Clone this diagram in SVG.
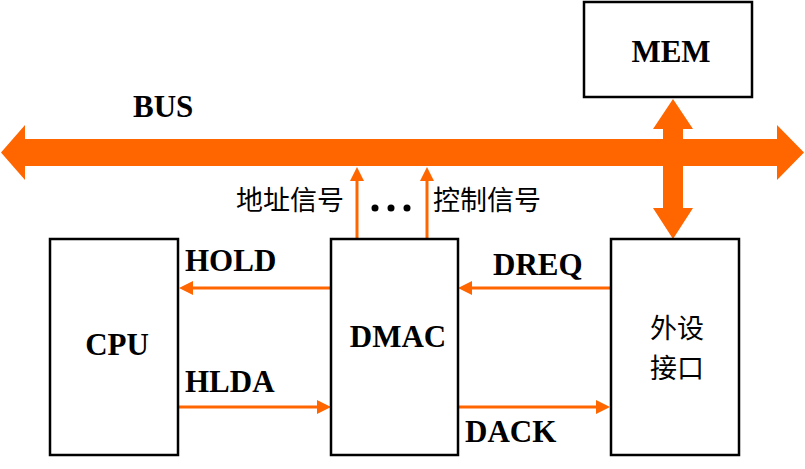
<svg xmlns="http://www.w3.org/2000/svg" width="805" height="469" viewBox="0 0 805 469">
<style>
.box{fill:#fff;stroke:#000;stroke-width:2.5}
.lb{font-family:"Liberation Serif","Times New Roman",serif;font-weight:bold;font-size:31px;fill:#000}
.cn{font-family:"Noto Sans CJK SC",sans-serif;fill:#000}
.sig{stroke:#FF6600;stroke-width:3;fill:none;marker-end:url(#ah)}
.bus{fill:#FF6600}
</style>
<defs>
<marker id="ah" markerUnits="userSpaceOnUse" markerWidth="14" markerHeight="14" refX="4" refY="7" orient="auto">
<path d="M0,0 L14,7 L0,14 z" fill="#FF6600"/>
</marker>
</defs>
<rect width="805" height="469" fill="#fff"/>
<g id="connectors">
<polygon class="bus" points="1,152.5 25,125 25,139 777,139 777,125 804,152.5 777,180 777,166 25,166 25,180"/>
<polygon class="bus" points="673,99 693,129 683,129 683,208 693,208 673,239 653,208 663,208 663,129 653,129"/>
<line class="sig" x1="357" y1="238" x2="357" y2="177"/>
<line class="sig" x1="427" y1="238" x2="427" y2="177"/>
<line class="sig" x1="331" y1="288" x2="189" y2="288"/>
<line class="sig" x1="611" y1="288" x2="468" y2="288"/>
<line class="sig" x1="179" y1="407" x2="321" y2="407"/>
<line class="sig" x1="458" y1="407" x2="600" y2="407"/>
</g>
<g id="labels">
<text class="lb" x="133" y="117">BUS</text>
<text class="cn" x="236" y="210" font-size="27">地址信号</text>
<text class="cn" x="433" y="210" font-size="27">控制信号</text>
<circle cx="375" cy="208" r="3.5"/>
<circle cx="391" cy="208" r="3.5"/>
<circle cx="407" cy="208" r="3.5"/>
<text class="lb" x="185" y="271">HOLD</text>
<text class="lb" x="185" y="392">HLDA</text>
<text class="lb" x="493" y="275">DREQ</text>
<text class="lb" x="465" y="442">DACK</text>
</g>
<g id="mem">
<rect class="box" x="584" y="2" width="168" height="95"/>
<text class="lb" x="671" y="62" text-anchor="middle">MEM</text>
</g>
<g id="cpu">
<rect class="box" x="50" y="239" width="128" height="216"/>
<text class="lb" x="117" y="355" text-anchor="middle">CPU</text>
</g>
<g id="dmac">
<rect class="box" x="331" y="239" width="127" height="216"/>
<text class="lb" x="398" y="347" text-anchor="middle">DMAC</text>
</g>
<g id="io">
<rect class="box" x="611" y="239" width="128" height="216"/>
<text class="cn" font-size="27" text-anchor="middle"><tspan x="677" y="338">外设</tspan><tspan x="677" y="378">接口</tspan></text>
</g>
</svg>
